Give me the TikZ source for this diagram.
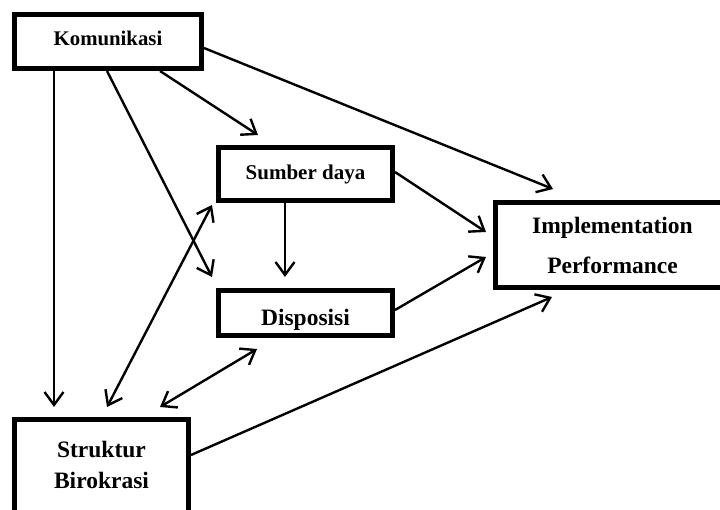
\documentclass[tikz,border=0pt]{standalone}
\usepackage{fontspec}
\setmainfont{Liberation Serif}
\usetikzlibrary{arrows.meta,calc}
\begin{document}
\begin{tikzpicture}[x=1pt,y=-1pt,
  box/.style={draw, line width=4.6pt, rectangle, fill=white, align=center, inner sep=0pt},
  link/.style={line width=2.4pt, -{Straight Barb[length=13pt,width=19pt]}},
  twoway/.style={line width=2.4pt, {Straight Barb[length=13pt,width=19pt]}-{Straight Barb[length=13pt,width=19pt]}}]
\useasboundingbox (0,0) rectangle (720,509);
\clip (0,0) rectangle (720,509);
\fill[white] (0,0) rectangle (720,509);

% boxes
\node[box, minimum width=187.4pt, minimum height=54.4pt, text height=14pt, text depth=7pt,
      font=\fontsize{20.8}{24}\selectfont\bfseries] (kom) at (108,41.5) {Komunikasi};
\node[box, minimum width=174.4pt, minimum height=53.4pt, text height=15pt, text depth=5pt,
      font=\fontsize{21}{25}\selectfont\bfseries] (sum) at (305.5,174) {Sumber daya};
\node[box, minimum width=174.4pt, minimum height=45.4pt, text height=24pt, text depth=0pt,
      font=\fontsize{23.5}{28}\selectfont\bfseries] (dis) at (305.5,313) {Disposisi};
\node[box, minimum width=234.4pt, minimum height=85.4pt,
      font=\fontsize{23.5}{40}\selectfont\bfseries] (imp) at (612.5,245)
      {\raisebox{-4pt}{\begin{tabular}{@{}c@{}}Implementation\\Performance\end{tabular}}};
\node[box, minimum width=174.4pt, minimum height=95.4pt,
      font=\fontsize{23.5}{31}\selectfont\bfseries] (str) at (101.5,467)
      {\begin{tabular}{@{}c@{}}Struktur\\Birokrasi\end{tabular}};

% connectors
\draw[link] ($(kom.south west)+(42,0)$) -- ($(str.north west)+(42,-10)$);
\draw[link] ($(kom.south west)+(95,0)$) -- ($(dis.north west)+(-4,-11)$);
\draw[link] ($(kom.south west)+(148,0)$) -- ($(sum.north west)+(42,-10)$);
\draw[link] ($(kom.north east)+(0,36)$) -- ($(imp.north west)+(60,-11)$);
\draw[link] ($(sum.south west)+(69,0)$) -- ($(dis.north west)+(69,-11)$);
\draw[link] ($(sum.north east)+(0,27)$) -- ($(imp.north west)+(-7,32)$);
\draw[link] ($(dis.north east)+(0,22)$) -- ($(imp.south west)+(-7,-33)$);
\draw[twoway] ($(str.north west)+(95,-10)$) -- ($(sum.south west)+(-4,2)$);
\draw[twoway] ($(str.north west)+(148,-10)$) -- ($(dis.south west)+(41,11)$);
\draw[link] ($(str.north east)+(0,38)$) -- ($(imp.south west)+(59,7)$);
\end{tikzpicture}
\end{document}
